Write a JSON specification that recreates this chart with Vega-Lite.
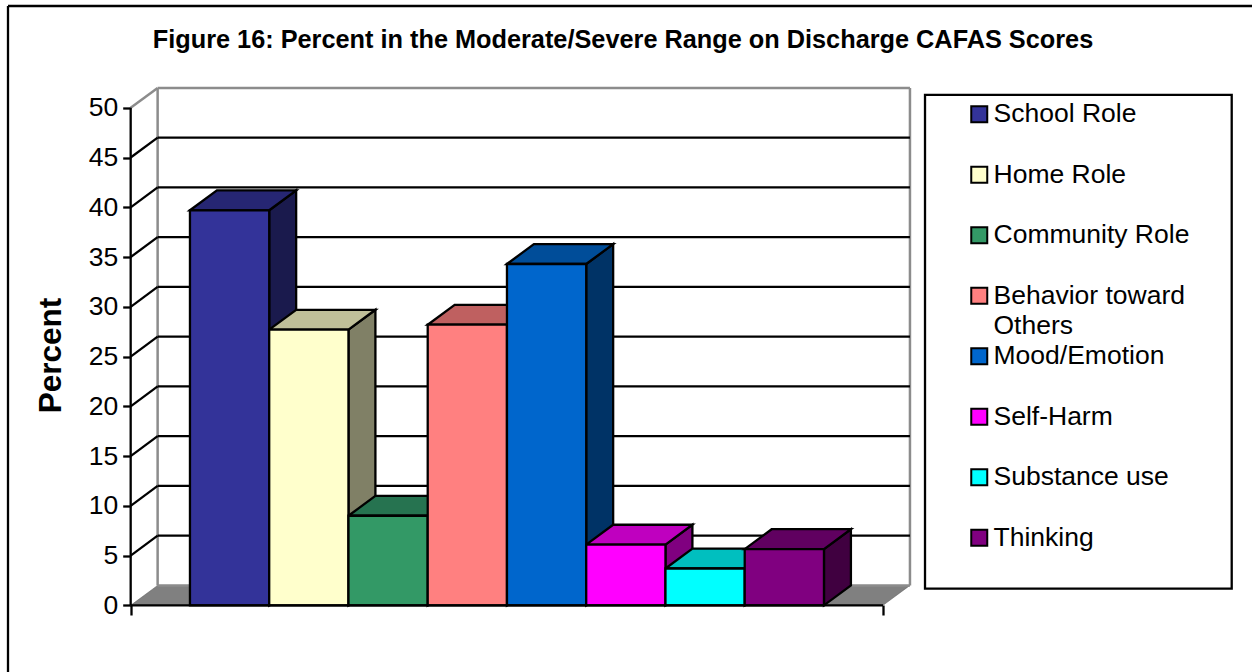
{
  "$schema": "https://vega.github.io/schema/vega-lite/v6.json",
  "width": 1244,
  "height": 666,
  "padding": {"left": 8, "top": 6, "right": 0, "bottom": 0},
  "autosize": {"type": "none"},
  "background": "white",
  "config": {"view": {"stroke": null}, "font": "Liberation Sans"},
  "title": {
    "text": "Figure 16: Percent in the Moderate/Severe Range on Discharge CAFAS Scores",
    "font": "Liberation Sans", "fontSize": 25.3, "fontWeight": "bold", "color": "black",
    "anchor": "middle", "frame": "group", "dx": -7, "baseline": "alphabetic", "offset": -68
  },
  "datasets": {
    "bars": [
      {"series": "School Role", "start": 0.748, "end": 1.748, "percent": 39.7, "base": 0},
      {"series": "Home Role", "start": 1.748, "end": 2.748, "percent": 27.7, "base": 0},
      {"series": "Community Role", "start": 2.748, "end": 3.748, "percent": 9.0, "base": 0},
      {"series": "Behavior toward Others", "start": 3.748, "end": 4.748, "percent": 28.2, "base": 0},
      {"series": "Mood/Emotion", "start": 4.748, "end": 5.748, "percent": 34.3, "base": 0},
      {"series": "Self-Harm", "start": 5.748, "end": 6.748, "percent": 6.1, "base": 0},
      {"series": "Substance use", "start": 6.748, "end": 7.748, "percent": 3.7, "base": 0},
      {"series": "Thinking", "start": 7.748, "end": 8.748, "percent": 5.65, "base": 0}
    ],
    "sideFaces": [
      {"series": "School Role", "x": 1.748, "upper": 39.7, "lower": 0},
      {"series": "School Role", "x": 2.088, "upper": 41.7, "lower": 2},
      {"series": "Home Role", "x": 2.748, "upper": 27.7, "lower": 0},
      {"series": "Home Role", "x": 3.088, "upper": 29.7, "lower": 2},
      {"series": "Community Role", "x": 3.748, "upper": 9.0, "lower": 0},
      {"series": "Community Role", "x": 4.088, "upper": 11.0, "lower": 2},
      {"series": "Behavior toward Others", "x": 4.748, "upper": 28.2, "lower": 0},
      {"series": "Behavior toward Others", "x": 5.088, "upper": 30.2, "lower": 2},
      {"series": "Mood/Emotion", "x": 5.748, "upper": 34.3, "lower": 0},
      {"series": "Mood/Emotion", "x": 6.088, "upper": 36.3, "lower": 2},
      {"series": "Self-Harm", "x": 6.748, "upper": 6.1, "lower": 0},
      {"series": "Self-Harm", "x": 7.088, "upper": 8.1, "lower": 2},
      {"series": "Substance use", "x": 7.748, "upper": 3.7, "lower": 0},
      {"series": "Substance use", "x": 8.088, "upper": 5.7, "lower": 2},
      {"series": "Thinking", "x": 8.748, "upper": 5.65, "lower": 0},
      {"series": "Thinking", "x": 9.088, "upper": 7.65, "lower": 2}
    ],
    "topFaces": [
      {"series": "School Role", "x": 0.748, "upper": 39.7, "lower": 39.7},
      {"series": "School Role", "x": 1.088, "upper": 41.7, "lower": 39.7},
      {"series": "School Role", "x": 1.748, "upper": 41.7, "lower": 39.7},
      {"series": "School Role", "x": 2.088, "upper": 41.7, "lower": 41.7},
      {"series": "Home Role", "x": 1.748, "upper": 27.7, "lower": 27.7},
      {"series": "Home Role", "x": 2.088, "upper": 29.7, "lower": 27.7},
      {"series": "Home Role", "x": 2.748, "upper": 29.7, "lower": 27.7},
      {"series": "Home Role", "x": 3.088, "upper": 29.7, "lower": 29.7},
      {"series": "Community Role", "x": 2.748, "upper": 9.0, "lower": 9.0},
      {"series": "Community Role", "x": 3.088, "upper": 11.0, "lower": 9.0},
      {"series": "Community Role", "x": 3.748, "upper": 11.0, "lower": 9.0},
      {"series": "Community Role", "x": 4.088, "upper": 11.0, "lower": 11.0},
      {"series": "Behavior toward Others", "x": 3.748, "upper": 28.2, "lower": 28.2},
      {"series": "Behavior toward Others", "x": 4.088, "upper": 30.2, "lower": 28.2},
      {"series": "Behavior toward Others", "x": 4.748, "upper": 30.2, "lower": 28.2},
      {"series": "Behavior toward Others", "x": 5.088, "upper": 30.2, "lower": 30.2},
      {"series": "Mood/Emotion", "x": 4.748, "upper": 34.3, "lower": 34.3},
      {"series": "Mood/Emotion", "x": 5.088, "upper": 36.3, "lower": 34.3},
      {"series": "Mood/Emotion", "x": 5.748, "upper": 36.3, "lower": 34.3},
      {"series": "Mood/Emotion", "x": 6.088, "upper": 36.3, "lower": 36.3},
      {"series": "Self-Harm", "x": 5.748, "upper": 6.1, "lower": 6.1},
      {"series": "Self-Harm", "x": 6.088, "upper": 8.1, "lower": 6.1},
      {"series": "Self-Harm", "x": 6.748, "upper": 8.1, "lower": 6.1},
      {"series": "Self-Harm", "x": 7.088, "upper": 8.1, "lower": 8.1},
      {"series": "Substance use", "x": 6.748, "upper": 3.7, "lower": 3.7},
      {"series": "Substance use", "x": 7.088, "upper": 5.7, "lower": 3.7},
      {"series": "Substance use", "x": 7.748, "upper": 5.7, "lower": 3.7},
      {"series": "Substance use", "x": 8.088, "upper": 5.7, "lower": 5.7},
      {"series": "Thinking", "x": 7.748, "upper": 5.65, "lower": 5.65},
      {"series": "Thinking", "x": 8.088, "upper": 7.65, "lower": 5.65},
      {"series": "Thinking", "x": 8.748, "upper": 7.65, "lower": 5.65},
      {"series": "Thinking", "x": 9.088, "upper": 7.65, "lower": 7.65}
    ],
    "floor": [
      {"x": 0, "upper": 0, "lower": 0},
      {"x": 0.34, "upper": 2, "lower": 0},
      {"x": 9.493, "upper": 2, "lower": 0},
      {"x": 9.833, "upper": 2, "lower": 2}
    ],
    "gridEdges": [
      {"x": 0, "x2": 0.34, "y": 5, "y2": 7}, {"x": 0.34, "x2": 9.833, "y": 7, "y2": 7},
      {"x": 0, "x2": 0.34, "y": 10, "y2": 12}, {"x": 0.34, "x2": 9.833, "y": 12, "y2": 12},
      {"x": 0, "x2": 0.34, "y": 15, "y2": 17}, {"x": 0.34, "x2": 9.833, "y": 17, "y2": 17},
      {"x": 0, "x2": 0.34, "y": 20, "y2": 22}, {"x": 0.34, "x2": 9.833, "y": 22, "y2": 22},
      {"x": 0, "x2": 0.34, "y": 25, "y2": 27}, {"x": 0.34, "x2": 9.833, "y": 27, "y2": 27},
      {"x": 0, "x2": 0.34, "y": 30, "y2": 32}, {"x": 0.34, "x2": 9.833, "y": 32, "y2": 32},
      {"x": 0, "x2": 0.34, "y": 35, "y2": 37}, {"x": 0.34, "x2": 9.833, "y": 37, "y2": 37},
      {"x": 0, "x2": 0.34, "y": 40, "y2": 42}, {"x": 0.34, "x2": 9.833, "y": 42, "y2": 42},
      {"x": 0, "x2": 0.34, "y": 45, "y2": 47}, {"x": 0.34, "x2": 9.833, "y": 47, "y2": 47}
    ],
    "wallEdges": [
      {"x": 0, "x2": 0.34, "y": 50, "y2": 52},
      {"x": 0.34, "x2": 9.833, "y": 52, "y2": 52},
      {"x": 0.34, "x2": 0.34, "y": 2, "y2": 52},
      {"x": 9.833, "x2": 9.833, "y": 2, "y2": 52},
      {"x": 0.34, "x2": 9.833, "y": 2, "y2": 2}
    ],
    "axisEdges": [
      {"x": 0, "x2": 0, "y": 0, "y2": 50},
      {"x": 0, "x2": 9.493, "y": 0, "y2": 0},
      {"x": -1.548, "x2": 14.149, "y": 60.23, "y2": 60.23},
      {"x": -1.548, "x2": -1.548, "y": -6.7, "y2": 60.23}
    ],
    "legendPanel": [
      {"x": 10.023, "x2": 13.893, "y": 1.67, "y2": 51.29}
    ]
  },
  "encoding": {
    "x": {"type": "quantitative", "scale": {"domain": [-1.548, 14.149], "nice": false, "zero": false}},
    "y": {"type": "quantitative", "scale": {"domain": [-6.7, 60.23], "nice": false, "zero": false}}
  },
  "layer": [
    {
      "data": {"name": "floor"},
      "mark": {"type": "area", "color": "#808080", "stroke": "#555555", "strokeWidth": 0.5},
      "encoding": {
        "x": {"field": "x", "type": "quantitative", "axis": {"orient": "bottom", "values": [0, 9.493], "labels": false, "title": null, "grid": false, "domain": false, "ticks": true, "tickSize": 10, "tickWidth": 2.3, "tickColor": "black", "offset": -67}},
        "y": {"field": "upper", "type": "quantitative", "axis": {"orient": "left", "values": [0, 5, 10, 15, 20, 25, 30, 35, 40, 45, 50], "grid": false, "domain": false, "tickSize": 8, "tickWidth": 2.3, "tickColor": "black", "labelFont": "Liberation Sans", "labelFontSize": 26.5, "labelColor": "black", "labelPadding": 5, "offset": -122.7, "title": "Percent", "titleFont": "Liberation Sans", "titleFontSize": 31.5, "titleFontWeight": "bold", "titleColor": "black", "titleAngle": 270, "titleBaseline": "alphabetic", "titleAlign": "center", "titleX": -70, "titleY": 349}},
        "y2": {"field": "lower"}
      }
    },
    {
      "data": {"name": "wallEdges"},
      "mark": {"type": "rule", "color": "#8c8c8c", "strokeWidth": 2.5},
      "encoding": {"x": {"field": "x", "type": "quantitative"}, "x2": {"field": "x2"}, "y": {"field": "y", "type": "quantitative"}, "y2": {"field": "y2"}}
    },
    {
      "data": {"name": "gridEdges"},
      "mark": {"type": "rule", "color": "black", "strokeWidth": 2.3},
      "encoding": {"x": {"field": "x", "type": "quantitative"}, "x2": {"field": "x2"}, "y": {"field": "y", "type": "quantitative"}, "y2": {"field": "y2"}}
    },
    {
      "data": {"name": "legendPanel"},
      "mark": {"type": "rect", "fill": "white", "stroke": "black", "strokeWidth": 2.3},
      "encoding": {"x": {"field": "x", "type": "quantitative"}, "x2": {"field": "x2"}, "y": {"field": "y", "type": "quantitative"}, "y2": {"field": "y2"}}
    },
    {
      "data": {"name": "sideFaces"},
      "mark": {"type": "area", "stroke": "black", "strokeWidth": 2.3, "fillOpacity": 1},
      "encoding": {
        "x": {"field": "x", "type": "quantitative"},
        "y": {"field": "upper", "type": "quantitative"},
        "y2": {"field": "lower"},
        "detail": {"field": "series"},
        "color": {"field": "series", "type": "nominal", "legend": null, "scale": {
          "domain": ["School Role", "Home Role", "Community Role", "Behavior toward Others", "Mood/Emotion", "Self-Harm", "Substance use", "Thinking"],
          "range": ["#1a1a4d", "#808066", "#1a4d33", "#804040", "#003366", "#800080", "#008080", "#400040"]
        }}
      }
    },
    {
      "data": {"name": "topFaces"},
      "mark": {"type": "area", "stroke": "black", "strokeWidth": 2.3, "fillOpacity": 1},
      "encoding": {
        "x": {"field": "x", "type": "quantitative"},
        "y": {"field": "upper", "type": "quantitative"},
        "y2": {"field": "lower"},
        "detail": {"field": "series"},
        "color": {"field": "series", "type": "nominal", "legend": null, "scale": {
          "domain": ["School Role", "Home Role", "Community Role", "Behavior toward Others", "Mood/Emotion", "Self-Harm", "Substance use", "Thinking"],
          "range": ["#262673", "#bfbf99", "#267350", "#bf6060", "#004d99", "#bf00bf", "#00bfbf", "#600060"]
        }}
      }
    },
    {
      "data": {"name": "bars"},
      "mark": {"type": "bar", "stroke": "black", "strokeWidth": 2.3},
      "encoding": {
        "x": {"field": "start", "type": "quantitative"},
        "x2": {"field": "end"},
        "y": {"field": "percent", "type": "quantitative"},
        "y2": {"field": "base"},
        "color": {"field": "series", "type": "nominal", "sort": null, "scale": {
          "domain": ["School Role", "Home Role", "Community Role", "Behavior toward Others", "Mood/Emotion", "Self-Harm", "Substance use", "Thinking"],
          "range": ["#333399", "#ffffcc", "#339966", "#ff8080", "#0066cc", "#ff00ff", "#00ffff", "#800080"]
        }, "legend": {
          "title": null, "orient": "none", "legendX": 958, "legendY": 95,
          "symbolType": "square", "symbolSize": 256, "symbolStrokeColor": "black", "symbolStrokeWidth": 2,
          "labelFont": "Liberation Sans", "labelFontSize": 26.5, "labelColor": "black", "labelLimit": 400, "labelOffset": 1,
          "rowPadding": 3.5, "gridAlign": "all", "columns": 1,
          "labelExpr": "datum.label == 'Behavior toward Others' ? ['Behavior toward', 'Others'] : datum.label",
          "encode": {"labels": {"update": {"lineHeight": {"value": 30}}}}
        }}
      }
    },
    {
      "data": {"name": "axisEdges"},
      "mark": {"type": "rule", "color": "black", "strokeWidth": 2.3},
      "encoding": {"x": {"field": "x", "type": "quantitative"}, "x2": {"field": "x2"}, "y": {"field": "y", "type": "quantitative"}, "y2": {"field": "y2"}}
    }
  ],
  "resolve": {"scale": {"color": "independent"}}
}
